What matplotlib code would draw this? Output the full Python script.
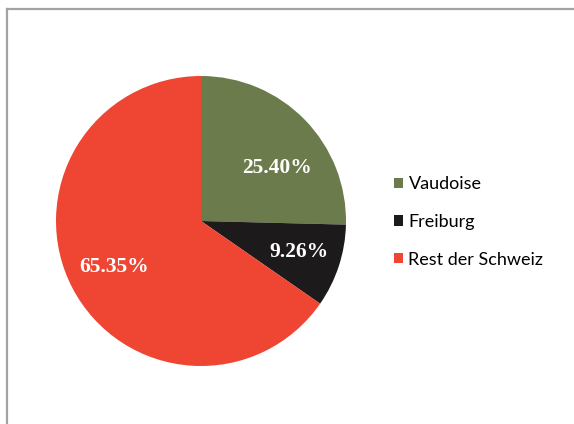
import matplotlib
matplotlib.use("Agg")
import matplotlib.pyplot as plt
from matplotlib.lines import Line2D
from matplotlib.patches import Patch

# Daten
labels = ["Vaudoise", "Freiburg", "Rest der Schweiz"]
values = [25.40, 9.26, 65.35]
colors = ["#6b7b4b", "#1c1a1b", "#ef4533"]

W, H = 574, 424
fig = plt.figure(figsize=(W / 100, H / 100), dpi=100)
fig.patch.set_facecolor("white")

# Rahmen (oben und links sichtbar)
fig.add_artist(Line2D([7 / W, 7 / W], [0, 1 - 9 / H], color="#a3a3a7", lw=1.6,
                      transform=fig.transFigure))
fig.add_artist(Line2D([7 / W, 1], [1 - 9 / H, 1 - 9 / H], color="#a3a3a7", lw=1.6,
                      transform=fig.transFigure))

# Kreisdiagramm
cx, cy, r = 201, 221, 145
ax = fig.add_axes([(cx - r) / W, (H - cy - r) / H, 2 * r / W, 2 * r / H])
wedges, texts, autotexts = ax.pie(
    values, colors=colors, startangle=90, counterclock=False,
    autopct=lambda p: f"{p:.2f}%", pctdistance=0.68,
    wedgeprops=dict(linewidth=0),
    textprops=dict(color="white", fontsize=15.5, fontweight="bold",
                   family="Liberation Serif"))
ax.set_xlim(-1, 1)
ax.set_ylim(-1, 1)
ax.axis("off")

# Prozentwerte wie im Original beschriften
for t, v in zip(autotexts, values):
    t.set_text(f"{v:.2f}%")
x0, y0 = autotexts[0].get_position()
autotexts[0].set_position((x0 + 0.04, y0 - 0.11))
x1, y1 = autotexts[1].get_position()
autotexts[1].set_position((x1 + 0.03, y1))

# Legende
handles = [Patch(facecolor=c, edgecolor="none") for c in colors]
fig.legend(handles, labels, loc="center left", bbox_to_anchor=(394 / W, 1 - 222 / H),
           frameon=False, prop=dict(family="Lato", size=13),
           handlelength=0.5, handleheight=0.5, handletextpad=0.3,
           labelspacing=1.2, borderpad=0, borderaxespad=0)

fig.savefig("out.png", dpi=100)
